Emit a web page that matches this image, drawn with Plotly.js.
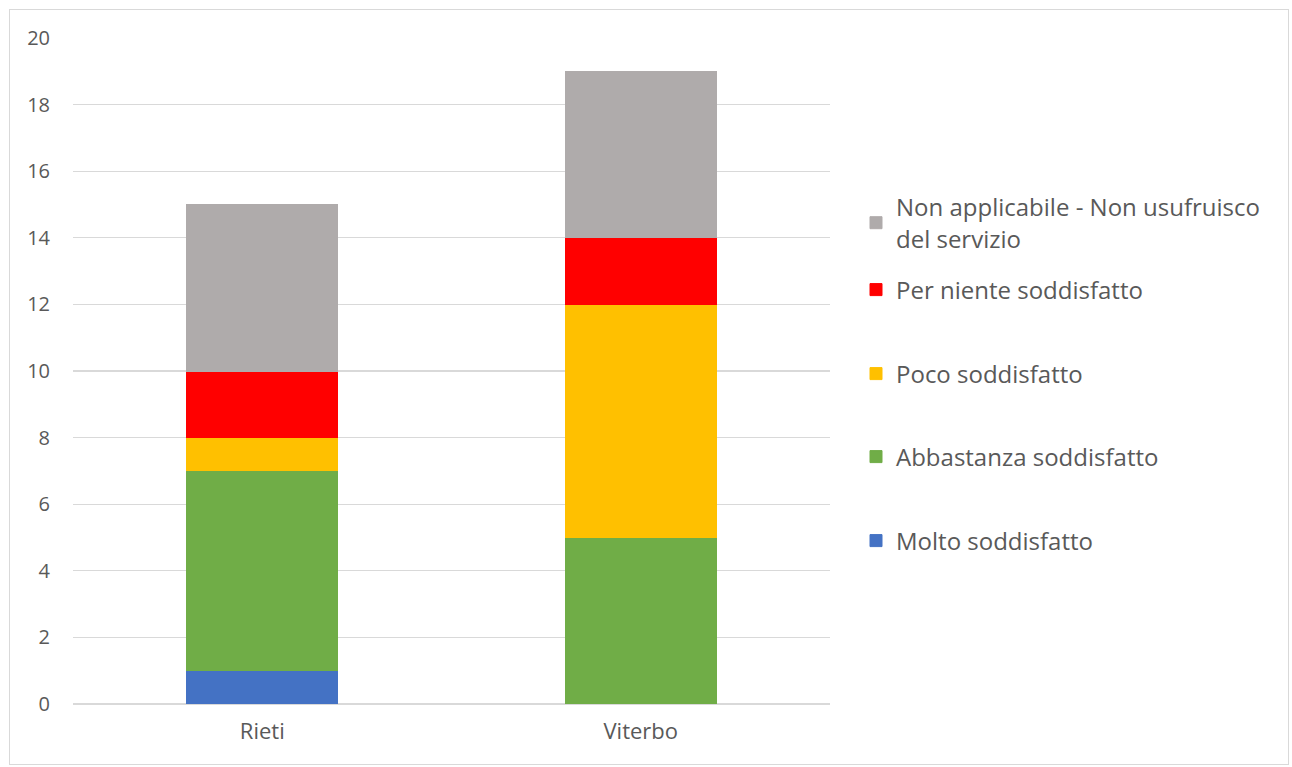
<!DOCTYPE html>
<html>
<head>
<meta charset="utf-8">
<script src="https://cdn.plot.ly/plotly-3.0.1.min.js"></script>
<style>
html,body{margin:0;padding:0;background:#fff;}
#chart{width:1292px;height:767px;}
#frame{position:absolute;left:9px;top:9px;width:1280px;height:756px;border:1.5px solid #d9d9d9;pointer-events:none;box-sizing:border-box;}
</style>
</head>
<body>
<div id="chart"></div>
<div id="frame"></div>
<script>
const categories = ["Rieti", "Viterbo"];
const seriesNames = [
  "Molto soddisfatto",
  "Abbastanza soddisfatto",
  "Poco soddisfatto",
  "Per niente soddisfatto",
  "Non applicabile - Non usufruisco<br>del servizio"
];
const molto = [1, 0];
const abbastanza = [6, 5];
const poco = [1, 7];
const perNiente = [2, 2];
const nonApplicabile = [5, 5];
const yTicks = [0, 2, 4, 6, 8, 10, 12, 14, 16, 18, 20];

const values = [molto, abbastanza, poco, perNiente, nonApplicabile];
const colors = ["#4472c4", "#70ad47", "#ffc000", "#ff0000", "#afabab"];
const legendIds = ["legend5", "legend4", "legend3", "legend2", "legend"];
const legendY = [541, 457, 374, 290, 223];

const plotTop = 38, plotBottom = 704, plotLeft = 73, plotRight = 830;
const W = 1292, H = 767;

const traces = values.map((v, i) => ({
  type: "bar",
  name: seriesNames[i],
  x: categories,
  y: v,
  marker: {color: colors[i], line: {color: colors[i], width: 1}},
  legend: legendIds[i],
  hoverinfo: "skip"
}));

const legendFont = {family: "Open Sans, sans-serif", size: 24, color: "#595959"};
const layout = {
  width: W, height: H,
  margin: {l: plotLeft, r: W - plotRight, t: plotTop, b: H - plotBottom},
  paper_bgcolor: "#ffffff",
  plot_bgcolor: "#ffffff",
  barmode: "stack",
  bargap: 0.6,
  showlegend: true,
  font: {family: "Open Sans, sans-serif", color: "#595959"},
  xaxis: {
    type: "category",
    tickfont: {size: 22, color: "#595959"},
    showgrid: false,
    showline: false,
    ticks: "",
    ticklabelstandoff: 12,
    fixedrange: true
  },
  yaxis: {
    range: [0, 20],
    tickvals: yTicks,
    ticktext: yTicks.map(String),
    tickfont: {size: 20, color: "#595959"},
    gridcolor: "#d9d9d9",
    gridwidth: 1.3,
    zeroline: true,
    zerolinecolor: "#d9d9d9",
    zerolinewidth: 1.3,
    showline: false,
    ticks: "",
    ticklabelstandoff: 22,
    fixedrange: true
  }
};

legendIds.forEach((id, i) => {
  layout[id] = {
    x: (856 - plotLeft) / (plotRight - plotLeft),
    xanchor: "left",
    y: (plotBottom - legendY[i]) / (plotBottom - plotTop),
    yanchor: "middle",
    font: legendFont,
    bgcolor: "rgba(0,0,0,0)",
    borderwidth: 0,
    itemclick: false,
    itemdoubleclick: false
  };
});

Plotly.newPlot("chart", traces, layout, {displayModeBar: false, staticPlot: true});
</script>
</body>
</html>
